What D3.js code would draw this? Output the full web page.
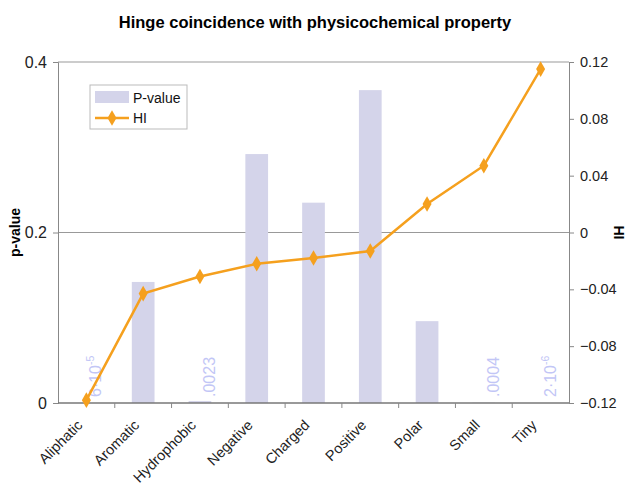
<!DOCTYPE html>
<html>
<head>
<meta charset="utf-8">
<script src="https://cdnjs.cloudflare.com/ajax/libs/d3/7.8.5/d3.min.js"></script>
<style>
body { margin: 0; background: #fff; }
text { font-family: "Liberation Sans", Arial, sans-serif; }
</style>
</head>
<body>
<div id="chart"></div>
<script>
// categories and the two series
var categories = ["Aliphatic", "Aromatic", "Hydrophobic", "Negative", "Charged", "Positive", "Polar", "Small", "Tiny"];
var pValues = [0.00006, 0.142, 0.0023, 0.292, 0.235, 0.367, 0.096, 0.0004, 0.000002];
var hiValues = [-0.118, -0.043, -0.031, -0.022, -0.018, -0.013, 0.020, 0.047, 0.115];
// small p-values written as rotated labels
var smallLabels = [
    {cat: "Aliphatic", text: "6·10", sup: "-5"},
    {cat: "Hydrophobic", text: ".0023", sup: ""},
    {cat: "Small", text: ".0004", sup: ""},
    {cat: "Tiny", text: "2·10", sup: "-6"}
];
var leftTicks = [0, 0.2, 0.4];
var rightTicks = [-0.12, -0.08, -0.04, 0, 0.04, 0.08, 0.12];

var W = 629, H = 485;
var margin = {left: 58, right: 60, top: 62, bottom: 82};
var orange = "#f5a01e";
var barColor = "#d4d4ea";

var svg = d3.select("#chart").append("svg")
    .attr("width", W)
    .attr("height", H);

var x = d3.scaleBand()
    .domain(categories)
    .range([margin.left, W - margin.right])
    .paddingInner(0.6)
    .paddingOuter(0.3);

var yL = d3.scaleLinear().domain([0, 0.4]).range([H - margin.bottom, margin.top]);
var yR = d3.scaleLinear().domain([-0.12, 0.12]).range([H - margin.bottom, margin.top]);

var x0 = margin.left, x1 = W - margin.right;
var yBot = H - margin.bottom, yTop = margin.top;

// gridline at 0.2 and top
svg.append("g").selectAll("line")
    .data([0.2, 0.4])
    .enter().append("line")
    .attr("x1", x0).attr("x2", x1)
    .attr("y1", function(d) { return yL(d); })
    .attr("y2", function(d) { return yL(d); })
    .attr("stroke", "#999")
    .attr("stroke-width", 1);

// bars
svg.append("g").selectAll("rect")
    .data(categories)
    .enter().append("rect")
    .attr("x", function(d) { return x(d); })
    .attr("width", x.bandwidth())
    .attr("y", function(d, i) { return yL(pValues[i]); })
    .attr("height", function(d, i) { return yBot - yL(pValues[i]); })
    .attr("fill", barColor);

// left axis
var axL = svg.append("g")
    .attr("transform", "translate(" + x0 + ",0)")
    .call(d3.axisLeft(yL).tickValues(leftTicks).tickSize(5).tickPadding(6)
        .tickFormat(function(d) { return d === 0 ? "0" : d3.format(".1f")(d); }));
axL.select(".domain").attr("stroke", "#888");
axL.selectAll(".tick line").attr("stroke", "#888");
axL.selectAll("text").attr("font-size", 16).attr("fill", "#222");

// right axis
var axR = svg.append("g")
    .attr("transform", "translate(" + x1 + ",0)")
    .call(d3.axisRight(yR).tickValues(rightTicks).tickSize(5).tickPadding(6)
        .tickFormat(function(d) { return d === 0 ? "0" : d3.format(".2f")(d); }));
axR.select(".domain").attr("stroke", "#888");
axR.selectAll(".tick line").attr("stroke", "#888");
axR.selectAll("text").attr("font-size", 14.5).attr("fill", "#222");

// bottom axis with ticks between categories
var axB = svg.append("g")
    .attr("transform", "translate(0," + yBot + ")");
axB.append("line")
    .attr("x1", x0).attr("x2", x1)
    .attr("stroke", "#777").attr("stroke-width", 1.3);
var step = x.step();
axB.selectAll(".sep")
    .data(categories.slice(1))
    .enter().append("line")
    .attr("class", "sep")
    .attr("x1", function(d) { return x(d) - (step - x.bandwidth()) / 2; })
    .attr("x2", function(d) { return x(d) - (step - x.bandwidth()) / 2; })
    .attr("y1", 0).attr("y2", 5)
    .attr("stroke", "#888");
axB.selectAll(".lab")
    .data(categories)
    .enter().append("text")
    .attr("class", "lab")
    .attr("text-anchor", "end")
    .attr("font-size", 14.5)
    .attr("fill", "#222")
    .attr("transform", function(d) {
        var cx = x(d) + x.bandwidth() / 2 - 3;
        return "translate(" + cx + ",23) rotate(-45)";
    })
    .text(function(d) { return d; });

// small p-value labels
var sl = svg.append("g").selectAll("text")
    .data(smallLabels)
    .enter().append("text")
    .attr("transform", function(d) {
        var cx = x(d.cat) + x.bandwidth() / 2 + 15;
        return "translate(" + cx + "," + (yBot - 6) + ") rotate(-90)";
    })
    .attr("font-size", 16)
    .attr("fill", "#c2c6f6");
sl.append("tspan").text(function(d) { return d.text; });
sl.append("tspan")
    .attr("font-size", 10.5)
    .attr("dy", -7)
    .text(function(d) { return d.sup; });

// HI line
var line = d3.line()
    .x(function(d, i) { return x(categories[i]) + x.bandwidth() / 2; })
    .y(function(d) { return yR(d); });

svg.append("path")
    .datum(hiValues)
    .attr("d", line)
    .attr("fill", "none")
    .attr("stroke", orange)
    .attr("stroke-width", 2.5);

svg.append("g").selectAll("path")
    .data(hiValues)
    .enter().append("path")
    .attr("d", d3.symbol().type(d3.symbolDiamond).size(70))
    .attr("transform", function(d, i) {
        return "translate(" + (x(categories[i]) + x.bandwidth() / 2) + "," + yR(d) + ")";
    })
    .attr("fill", orange);

// legend
var lg = svg.append("g").attr("transform", "translate(90,85)");
lg.append("rect")
    .attr("width", 97).attr("height", 44)
    .attr("fill", "#fff").attr("stroke", "#bbb");
lg.append("rect")
    .attr("x", 5).attr("y", 6).attr("width", 34).attr("height", 12)
    .attr("fill", barColor);
lg.append("text").attr("x", 43).attr("y", 18).attr("font-size", 14).attr("fill", "#111").text("P-value");
lg.append("line")
    .attr("x1", 5).attr("x2", 39).attr("y1", 33).attr("y2", 33)
    .attr("stroke", orange).attr("stroke-width", 2.5);
lg.append("path")
    .attr("d", d3.symbol().type(d3.symbolDiamond).size(70))
    .attr("transform", "translate(22,33)")
    .attr("fill", orange);
lg.append("text").attr("x", 43).attr("y", 38).attr("font-size", 14).attr("fill", "#111").text("HI");

// title and axis titles
svg.append("text")
    .attr("x", 315).attr("y", 28)
    .attr("text-anchor", "middle")
    .attr("font-size", 16.5).attr("font-weight", "bold")
    .text("Hinge coincidence with physicochemical property");

svg.append("text")
    .attr("transform", "translate(20," + yL(0.2) + ") rotate(-90)")
    .attr("text-anchor", "middle")
    .attr("font-size", 14).attr("font-weight", "bold")
    .text("p-value");

svg.append("text")
    .attr("transform", "translate(614," + yR(0) + ") rotate(90)")
    .attr("text-anchor", "middle")
    .attr("font-size", 14).attr("font-weight", "bold")
    .text("HI");
</script>
</body>
</html>
